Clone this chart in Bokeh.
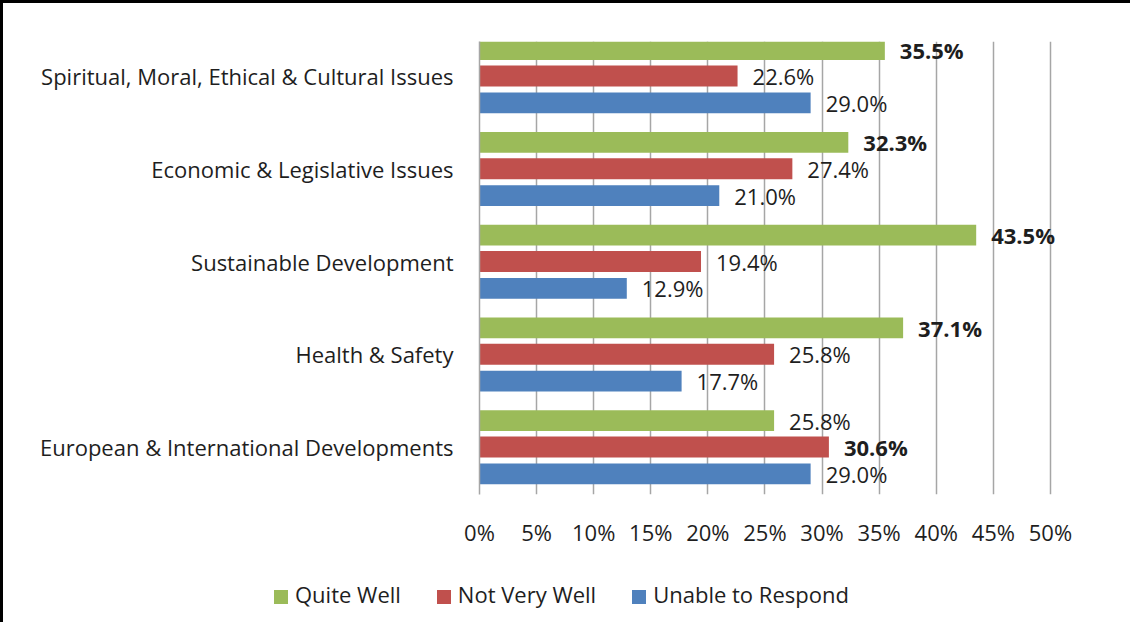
from bokeh.plotting import figure
from bokeh.layouts import column
from bokeh.models import ColumnDataSource, Range1d, FixedTicker, PrintfTickFormatter, Div
from bokeh.core.properties import value
from bokeh.embed import file_html
from bokeh.resources import INLINE

categories = [
    "Spiritual, Moral, Ethical & Cultural Issues",
    "Economic & Legislative Issues",
    "Sustainable Development",
    "Health & Safety",
    "European & International Developments",
]
series_names = ["Quite Well", "Not Very Well", "Unable to Respond"]
quite_well = [35.5, 32.3, 43.5, 37.1, 25.8]
not_very_well = [22.6, 27.4, 19.4, 25.8, 30.6]
unable = [29.0, 21.0, 12.9, 17.7, 29.0]
x_ticks = [0, 5, 10, 15, 20, 25, 30, 35, 40, 45, 50]

colors = ["#9BBB59", "#C0504D", "#4F81BD"]
offsets = [-0.285, 0.0, 0.29]
FONT = "Open Sans"
FS = "22px"
TXT = "#1e1e1e"

series = [quite_well, not_very_well, unable]
group_max = [max(a, b, c) for a, b, c in zip(quite_well, not_very_well, unable)]

p = figure(width=1130, height=560, output_backend="svg", toolbar_location=None,
           x_range=Range1d(0, 55), y_range=Range1d(4.512, -0.372),
           min_border_left=476, min_border_top=38, min_border_right=26, min_border_bottom=69)
p.styles = {"border-left": "3px solid black", "border-top": "3px solid black"}
p.outline_line_color = None
p.background_fill_color = "white"
p.border_fill_color = "white"

for k in range(3):
    ys = [i + offsets[k] for i in range(len(categories))]
    src = ColumnDataSource(dict(y=ys, right=series[k]))
    p.hbar(y="y", right="right", left=0, height=0.225, source=src,
           fill_color=colors[k], line_color=None)
    labels = ["%.1f%%" % v for v in series[k]]
    styles = ["bold" if v == m else "normal" for v, m in zip(series[k], group_max)]
    tsrc = ColumnDataSource(dict(x=series[k], y=ys, t=labels, s=styles))
    p.text(x="x", y="y", text="t", source=tsrc, x_offset=15, text_align="left",
           text_baseline="middle", text_font=value(FONT), text_font_size=FS,
           text_font_style="s", text_color=TXT)

# axes
p.xaxis.ticker = FixedTicker(ticks=x_ticks)
p.xaxis.formatter = PrintfTickFormatter(format="%d%%")
p.xaxis.axis_line_color = None
p.xaxis.major_tick_line_color = None
p.xaxis.minor_tick_line_color = None
p.xaxis.major_label_standoff = 16
p.xaxis.major_label_text_font = FONT
p.xaxis.major_label_text_font_size = FS
p.xaxis.major_label_text_color = TXT

p.yaxis.ticker = FixedTicker(ticks=list(range(len(categories))))
p.yaxis.major_label_overrides = {i: c for i, c in enumerate(categories)}
p.yaxis.axis_line_color = "#a6a6a6"
p.yaxis.axis_line_width = 1.5
p.yaxis.major_tick_line_color = None
p.yaxis.minor_tick_line_color = None
p.yaxis.major_label_standoff = 20
p.yaxis.major_label_text_font = FONT
p.yaxis.major_label_text_font_size = FS
p.yaxis.major_label_text_color = TXT

p.xgrid.ticker = FixedTicker(ticks=x_ticks)
p.xgrid.grid_line_color = "#a6a6a6"
p.xgrid.grid_line_width = 1.5
p.ygrid.grid_line_color = None

# legend strip below the chart (HTML, built from the series names and colours)
items_html = []
for i, (n, c) in enumerate(zip(series_names, colors)):
    gap = "" if i == 0 else '<span style="display:inline-block;width:36px"></span>'
    items_html.append(
        gap + '<span style="display:inline-block;width:14px;height:14px;background:%s;'
        'margin-right:7px;vertical-align:-1px"></span>%s' % (c, n))
legend_div = Div(
    text='<div style="font-family:\'Open Sans\';font-size:22px;color:%s;white-space:nowrap;'
         'padding-left:271px;padding-top:19px;line-height:30px">%s</div>' % (TXT, "".join(items_html)),
    width=1130, height=62, margin=0)
legend_div.styles = {"border-left": "3px solid black", "background": "white"}

layout = column(p, legend_div, spacing=0)
open("out.html", "w").write(file_html(layout, INLINE))
